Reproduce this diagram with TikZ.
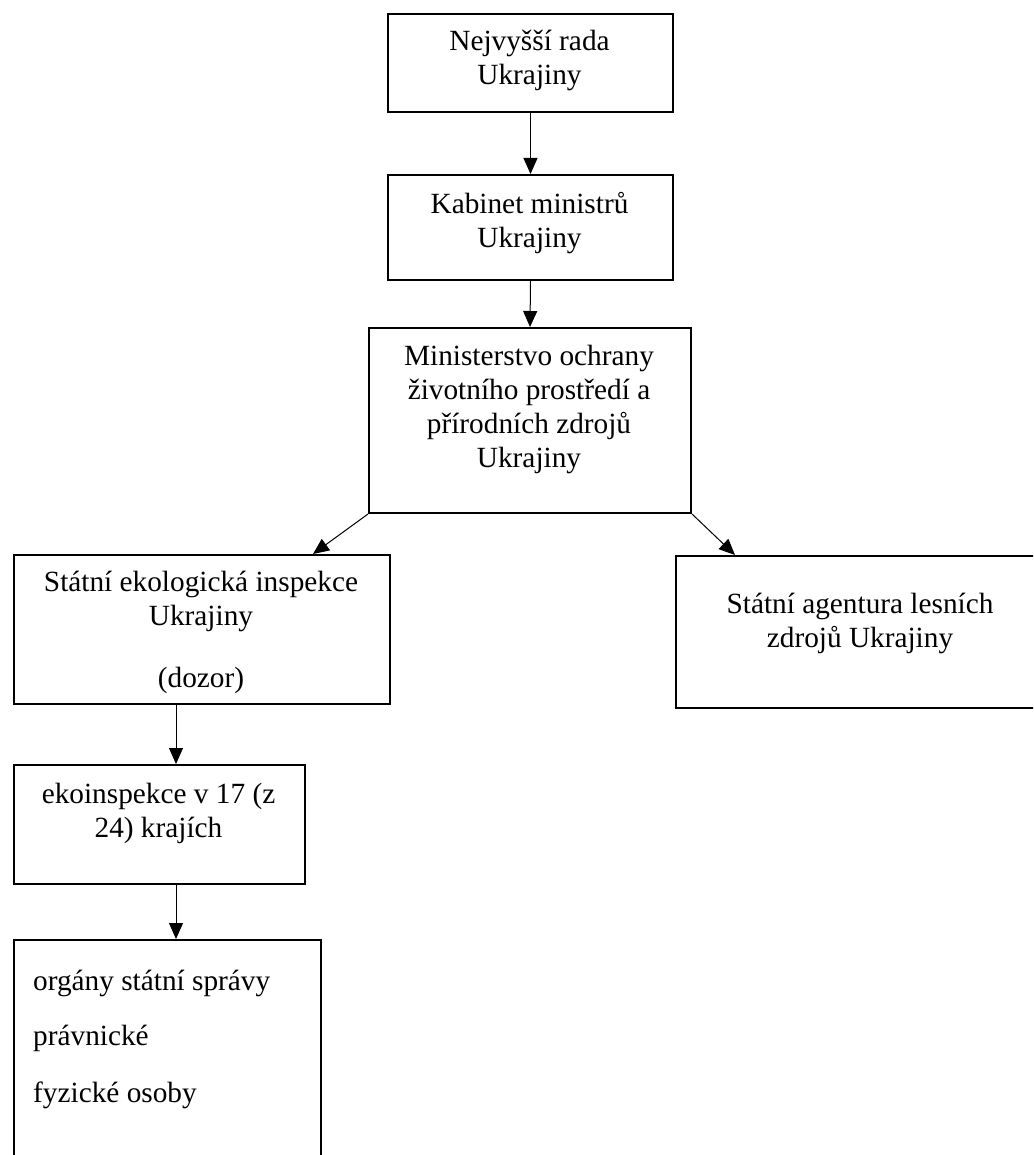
\documentclass[tikz,border=0pt]{standalone}
\usepackage{fontspec}
\setmainfont{Liberation Serif}
\usetikzlibrary{arrows.meta}
\tikzset{
	org/.style={draw, line width=2pt, inner sep=0pt, anchor=north west},
	txt/.style={inner sep=0pt, align=center, anchor=base, font=\fontsize{29.3}{34}\selectfont},
	link/.style={-{Triangle[length=16pt,width=14pt]}, line width=1pt},
}
\begin{document}
\begin{tikzpicture}[x=1pt, y=-1pt]
	\useasboundingbox (0,0) rectangle (1033,1155);
	\clip (0,0) rectangle (1033,1155);
	\coordinate (ekoaxis) at (176,0);
	\coordinate (leftend) at (313,0);
	\coordinate (rightend) at (735,0);
	
	% boxes
	\node[org, minimum width=285pt, minimum height=98pt] (rada) at (387,13) {};
	\node[org, minimum width=285pt, minimum height=105pt] (kabinet) at (387,174) {};
	\node[org, minimum width=322pt, minimum height=185pt] (ministerstvo) at (368,327) {};
	\node[org, minimum width=376pt, minimum height=149pt] (inspekce) at (13,554) {};
	\node[org, minimum width=370pt, minimum height=152pt] (agentura) at (675,555) {};
	\node[org, minimum width=291pt, minimum height=119pt] (krajich) at (13,764) {};
	\node[org, minimum width=307pt, minimum height=261pt] (organy) at (13,939) {};
	
	% texts (base = last line)
	\node[txt] (radatext) at (529.5,85) {Nejvyšší rada\\Ukrajiny};
	\node[txt] (kabinettext) at (529.5,248) {Kabinet ministrů\\Ukrajiny};
	\node[txt] (ministerstvotext) at (529,467) {Ministerstvo ochrany\\životního prostředí a\\přírodních zdrojů\\Ukrajiny};
	\node[txt] (inspekcetext) at (201,687) {Státní ekologická inspekce\\Ukrajiny\\[28pt](dozor)};
	\node[txt] (agenturatext) at (860,647) {Státní agentura lesních\\zdrojů Ukrajiny};
	\node[txt] (krajichtext) at (158.5,837) {ekoinspekce v 17 (z\\24) krajích};
	\node[txt, align=left, anchor=base west] (organytext) at (33,1102) {orgány státní správy\\[21pt]právnické\\[23pt]fyzické osoby};
	
	\draw[link] (rada.south) -- (kabinet.north);
	\draw[link] (kabinet.south) -- (ministerstvo.north);
	\draw[link] (ministerstvo.south west) -- (inspekce.north -| leftend);
	\draw[link] (ministerstvo.south east) -- (agentura.north -| rightend);
	\draw[link] (inspekce.south -| ekoaxis) -- (krajich.north -| ekoaxis);
	\draw[link] (krajich.south -| ekoaxis) -- (organy.north -| ekoaxis);
\end{tikzpicture}
\end{document}
